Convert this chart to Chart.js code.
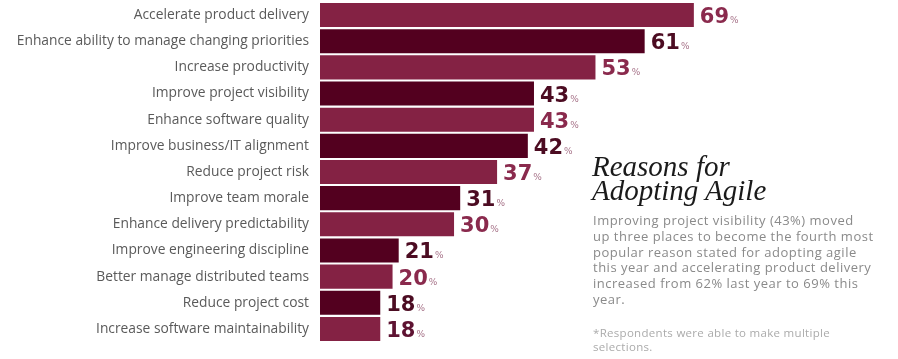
<!DOCTYPE html>
<html>
<head>
<meta charset="utf-8">
<script src="https://cdn.jsdelivr.net/npm/chart.js@4.4.1/dist/chart.umd.min.js"></script>
<style>
  body { margin: 0; background: #fff; }
  #wrap { position: relative; width: 898px; height: 359px; overflow: hidden; }
  #box { position: absolute; left: 0; top: 0; width: 898px; height: 359px; }
  .title {
    position: absolute; left: 592px; top: 154px;
    font-family: "Liberation Serif", serif; font-style: italic;
    font-size: 29px; line-height: 24px; color: #1a1a1a;
  }
  .body {
    position: absolute; left: 593px; top: 213px;
    font-family: "Open Sans", sans-serif; font-size: 13px; letter-spacing: 0.5px;
    line-height: 15.8px; color: #8a8a8a;
  }
  .note {
    position: absolute; left: 593px; top: 326px;
    font-family: "Open Sans", sans-serif; font-size: 11.5px; letter-spacing: 0.3px;
    line-height: 13.5px; color: #ababab;
  }
</style>
</head>
<body>
<div id="wrap">
  <div id="box"><canvas id="chart"></canvas></div>
  <div class="title">Reasons for<br>Adopting Agile</div>
  <div class="body">Improving project visibility (43%) moved<br>up three places to become the fourth most<br>popular reason stated for adopting agile<br>this year and accelerating product delivery<br>increased from 62% last year to 69% this<br>year.</div>
  <div class="note">*Respondents were able to make multiple<br>selections.</div>
</div>
<script>
const reasons = [
  "Accelerate product delivery",
  "Enhance ability to manage changing priorities",
  "Increase productivity",
  "Improve project visibility",
  "Enhance software quality",
  "Improve business/IT alignment",
  "Reduce project risk",
  "Improve team morale",
  "Enhance delivery predictability",
  "Improve engineering discipline",
  "Better manage distributed teams",
  "Reduce project cost",
  "Increase software maintainability",
]
const percents = [69, 61, 53, 43, 43, 42, 37, 31, 30, 21, 20, 18, 18]

const light = "#842244"
const dark = "#53001f"
const barColors = reasons.map((r, i) => (i % 2 === 0 ? light : dark))
const labelColors = barColors.map((c, i) => (i === reasons.length - 1 ? "#5e1332" : c === light ? "#8a2a4d" : "#4c0c22"))

// value labels: big bold number + small "%"
const valueLabels = {
  id: "valueLabels",
  afterDatasetsDraw(chart) {
    const ctx = chart.ctx
    const meta = chart.getDatasetMeta(0)
    ctx.save()
    ctx.textBaseline = "alphabetic"
    ctx.textAlign = "left"
    meta.data.forEach((bar, i) => {
      const txt = String(percents[i])
      const x = bar.x + 6
      const y = bar.y + 8
      ctx.font = "bold 21px 'DejaVu Sans'"
      ctx.fillStyle = labelColors[i]
      ctx.fillText(txt, x, y)
      const w = ctx.measureText(txt).width
      ctx.font = "9px 'DejaVu Sans'"
      ctx.fillStyle = "#a77389"
      ctx.fillText("%", x + w + 1, y)
    })
    ctx.restore()
  },
}

new Chart(document.getElementById("chart"), {
  type: "bar",
  data: {
    labels: reasons,
    datasets: [
      {
        data: percents,
        backgroundColor: barColors,
        categoryPercentage: 1,
        barPercentage: 0.92,
      },
    ],
  },
  options: {
    indexAxis: "y",
    responsive: true,
    maintainAspectRatio: false,
    animation: false,
    layout: { padding: { top: 2, bottom: 17, left: 0, right: 0 } },
    plugins: { legend: { display: false }, tooltip: { enabled: false } },
    scales: {
      x: {
        display: false,
        min: 8.2,
        max: 102.2,
      },
      y: {
        grid: { display: false, drawTicks: false },
        border: { display: false },
        ticks: {
          padding: 11,
          color: "#5a5a5a",
          font: { family: "'Open Sans'", size: 13.8 },
        },
        afterFit(scale) {
          scale.width = 320
          // labels are inside the rows, no extra room needed above/below
          scale.paddingTop = 0
          scale.paddingBottom = 0
        },
      },
    },
  },
  plugins: [valueLabels],
})
</script>
</body>
</html>
